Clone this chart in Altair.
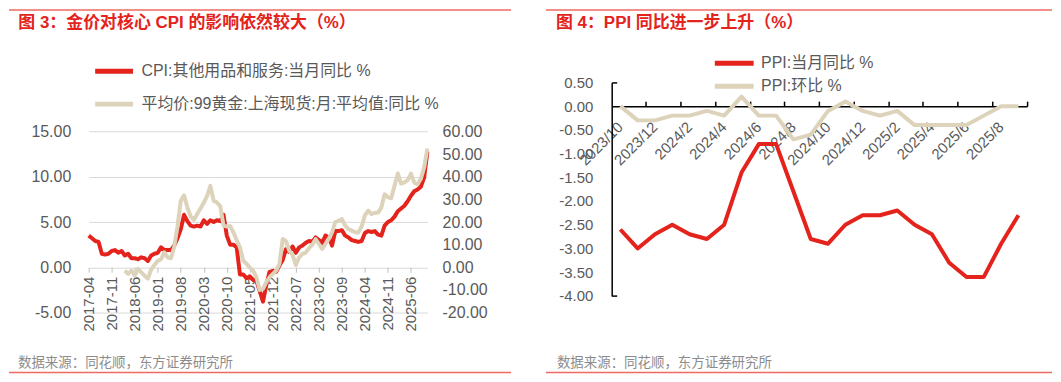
import altair as alt
import pandas as pd

FONT = "Liberation Sans, 'Noto Sans CJK SC', sans-serif"
RED = "#e3231c"
TAN = "#ddd3bb"
RULE = "#ee6a62"
GRAY = "#595959"
SRC = "#8c8c8c"
MINUS_EXPR = "replace(format(datum.value, '.2f'), '\u2212', '-')"

# ---------------- left chart data ----------------
months = []
for yy in range(2017, 2026):
    for mm in range(1, 13):
        if (2017, 4) <= (yy, mm) <= (2025, 11):
            months.append(f"{yy}-{mm:02d}")

cpi = [3.5, 3.2, 2.9, 2.8, 1.5, 1.4, 1.5, 1.8, 1.9, 1.6,
       1.8, 1.3, 1.5, 1.0, 1.0, 0.9, 1.1, 1.0, 0.7, 1.3,
       1.5, 1.6, 2.2, 1.9, 1.9, 1.9, 2.4, 3.2, 4.2, 5.8,
       5.1, 4.6, 4.5, 4.6, 4.5, 5.2, 4.8, 5.2, 5.0, 5.2,
       5.1, 5.8, 3.5, 2.5, 2.5, 2.2, -0.8, -0.8, -1.2, -1.0,
       -1.4, -1.5, -2.6, -3.8, -2.0, -0.5, -0.4, -0.5, 0.2, 0.8,
       2.0, 1.7, 2.3, 1.6, 2.2, 2.4, 2.7, 2.9, 2.8, 3.3,
       3.0, 2.7, 3.5, 3.3, 2.4, 4.0, 4.0, 4.1, 3.5, 3.3,
       3.0, 2.9, 2.8, 2.9, 3.8, 4.0, 3.9, 4.0, 3.6, 3.5,
       4.6, 5.0, 5.2, 5.6, 6.2, 6.5, 6.8, 7.3, 7.9, 8.4,
       8.6, 8.9, 9.9, 12.8]

gold = [None] * 11 + [
    -1.5, -2.9, -1.5, -3.7, -0.7, -2.2, -3.7, -5.0, -1.0, 1.0,
    2.9, 3.5, 6.6, 4.4, 4.0, 9.0, 18.0, 29.4, 31.8, 26.4,
    22.5, 21.0, 23.5, 26.0, 28.5, 31.5, 36.0, 29.4, 28.6, 27.0,
    18.4, 18.0, 18.2, 15.5, 12.0, 8.8, 3.0, 1.5, 0.0, -1.5,
    -4.4, -10.0, -9.5, -6.6, -4.4, -2.9, -1.5, 1.5, 12.5, 11.5,
    7.3, 5.5, 1.0, 4.4, 5.9, 6.5, 8.5, 10.0, 12.5, 10.3,
    8.1, 10.3, 12.5, 15.4, 20.0, 20.5, 21.3, 18.4, 16.9, 16.2,
    15.5, 15.4, 18.0, 23.0, 25.0, 23.5, 24.0, 24.2, 26.4, 32.3,
    31.0, 30.5, 36.0, 41.5, 37.0, 37.5, 38.5, 41.4, 37.4, 36.7,
    39.0, 44.0, 52.5]

NAME_CPI = "CPI:其他用品和服务:当月同比 %"
NAME_GOLD = "平均价:99黄金:上海现货:月:平均值:同比 %"
left_ticks_y = [-5, 0, 5, 10, 15]
right_ticks_y = [-20, -10, 0, 10, 20, 30, 40, 50, 60]

# ---------------- right chart data ----------------
months2 = ["2023/10", "2023/11", "2023/12",
           "2024/1", "2024/2", "2024/3", "2024/4", "2024/5", "2024/6",
           "2024/7", "2024/8", "2024/9", "2024/10", "2024/11", "2024/12",
           "2025/1", "2025/2", "2025/3", "2025/4", "2025/5", "2025/6",
           "2025/7", "2025/8", "2025/9"]
ppi_yoy = [-2.6, -3.0, -2.7, -2.5, -2.7, -2.8, -2.5, -1.4, -0.8, -0.8,
           -1.8, -2.8, -2.9, -2.5, -2.3, -2.3, -2.2, -2.5, -2.7, -3.3,
           -3.6, -3.6, -2.9, -2.3]
ppi_mom = [0.0, -0.3, -0.3, -0.2, -0.2, -0.1, -0.2, 0.2, -0.2, -0.2,
           -0.7, -0.6, -0.1, 0.1, -0.1, -0.2, -0.1, -0.4, -0.4, -0.4,
           -0.4, -0.2, 0.0, 0.0]
NAME_YOY = "PPI:当月同比 %"
NAME_MOM = "PPI:环比 %"
ppi_ticks_y = [-4.0, -3.5, -3.0, -2.5, -2.0, -1.5, -1.0, -0.5, 0.0, 0.5]
ppi_end_ticks = [-4.0, 0.5]

TITLE_L = "图 3：金价对核心 CPI 的影响依然较大（%）"
TITLE_R = "图 4：PPI 同比进一步上升（%）"
SOURCE = "数据来源：同花顺，东方证券研究所"


def deco_text(text, x, y, size, color, bold=False):
    return alt.Chart(pd.DataFrame({"t": [text]})).mark_text(
        align="left", baseline="middle", font=FONT, fontSize=size, color=color,
        fontWeight="bold" if bold else "normal"
    ).encode(x=alt.value(x), y=alt.value(y), text="t:N")


def deco_rule(x1, x2, y):
    return alt.Chart(pd.DataFrame({"r": [0]})).mark_rule(
        color=RULE, strokeWidth=1.5
    ).encode(x=alt.value(x1), x2=alt.value(x2), y=alt.value(y))


# ================= LEFT PANEL =================
LX0, LY0 = 88.0, 80.7
LW, LH = 340, 231
px_per = (311.7 - 130.0) / 20.0
ltop = 15 + (130.0 - LY0) / px_per
gtop = -20 + 4 * (ltop + 5)
l_xoff = -(LH * 5.0 / (ltop + 5))

df_cpi = pd.DataFrame({"month": months, "v": cpi, "s": NAME_CPI})
df_gold = pd.DataFrame({"month": months, "v": gold, "s": NAME_GOLD}).dropna()

x_left = alt.X(
    "month:O", sort=months, scale=alt.Scale(type="point", padding=0),
    axis=alt.Axis(values=months[::7], orient="bottom", offset=l_xoff, labelAngle=270,
                  labelAlign="right", labelBaseline="middle", labelPadding=4,
                  tickSize=5, tickColor="#bfbfbf", domain=False, grid=False, title=None,
                  labelFontSize=15, labelColor=GRAY, labelFont=FONT, labelOverlap=False))

legend_left = alt.Legend(
    orient="none", legendX=13, legendY=-23.7, title=None, direction="vertical",
    symbolType="M-1.9,0H1.9", symbolSize=400, symbolStrokeWidth=5,
    labelFontSize=16, labelColor=GRAY, labelFont=FONT, labelOffset=15,
    labelLimit=500, rowPadding=10, padding=0)
color_left = alt.Color("s:N", scale=alt.Scale(domain=[NAME_CPI, NAME_GOLD], range=[RED, TAN]),
                       legend=legend_left)

cpi_line = alt.Chart(df_cpi).mark_line(strokeWidth=4, strokeJoin="round").encode(
    x=x_left,
    y=alt.Y("v:Q", scale=alt.Scale(domain=[-5, ltop], nice=False, zero=False),
            axis=alt.Axis(values=left_ticks_y, labelExpr=MINUS_EXPR, grid=True,
                          gridColor="#d9d9d9", gridWidth=1, domain=False, ticks=False,
                          tickSize=0, labelPadding=18, labelFontSize=16, labelColor=GRAY,
                          labelFont=FONT, title=None)),
    color=color_left)

gold_line = alt.Chart(df_gold).mark_line(strokeWidth=4, strokeJoin="round").encode(
    x=x_left,
    y=alt.Y("v:Q", scale=alt.Scale(domain=[-20, gtop], nice=False, zero=False),
            axis=alt.Axis(orient="right", values=right_ticks_y, labelExpr=MINUS_EXPR,
                          grid=False, domain=False, ticks=False, tickSize=0,
                          labelPadding=14.7, labelFontSize=16, labelColor=GRAY,
                          labelFont=FONT, title=None)),
    color=color_left)

left = alt.layer(
    cpi_line, gold_line,
    deco_rule(8 - LX0, 512 - LX0, 8 - LY0),
    deco_text(TITLE_L, 17.3 - LX0, 21 - LY0, 17, RED, bold=True),
    deco_text(SOURCE, 17 - LX0, 362 - LY0, 13.5, SRC),
    deco_rule(8 - LX0, 512 - LX0, 372 - LY0),
).resolve_scale(y="independent").properties(width=LW, height=LH)

# ================= RIGHT PANEL =================
RX0, RY0 = 613.0, 80.7
RW, RH = 417, 214.3
zero_from_top = RH * 0.5 / 4.5

df_yoy = pd.DataFrame({"month": months2, "v": ppi_yoy, "s": NAME_YOY})
df_mom = pd.DataFrame({"month": months2, "v": ppi_mom, "s": NAME_MOM})

band = alt.Scale(type="band", paddingInner=0, paddingOuter=0)
y_scale_r = alt.Scale(domain=[-4, 0.5], nice=False, zero=False)

legend_right = alt.Legend(
    orient="none", legendX=110.5, legendY=-31.7, title=None, direction="vertical",
    symbolType="M-1.95,0H1.95", symbolSize=400, symbolStrokeWidth=5,
    labelFontSize=16, labelColor=GRAY, labelFont=FONT, labelOffset=14.5,
    labelLimit=500, rowPadding=0, padding=0)
color_right = alt.Color("s:N", scale=alt.Scale(domain=[NAME_YOY, NAME_MOM], range=[RED, TAN]),
                        legend=legend_right)

yoy_line = alt.Chart(df_yoy).mark_line(strokeWidth=4, strokeJoin="round").encode(
    x=alt.X("month:O", sort=months2, scale=band,
            axis=alt.Axis(values=months2[::2], orient="bottom", offset=-(RH - zero_from_top),
                          labelAngle=-45, labelAlign="right", labelBaseline="middle",
                          labelPadding=18, ticks=False, tickSize=0, domain=False, grid=False,
                          title=None, labelFontSize=15, labelColor=GRAY, labelFont=FONT,
                          labelOverlap=False)),
    y=alt.Y("v:Q", scale=y_scale_r,
            axis=alt.Axis(values=ppi_ticks_y, labelExpr=MINUS_EXPR, grid=False,
                          domain=True, domainColor="#000000", domainWidth=1.5,
                          ticks=False, tickSize=0, labelPadding=19, labelFontSize=15,
                          labelColor=GRAY, labelFont=FONT, title=None)),
    color=color_right)

mom_line = alt.Chart(df_mom).mark_line(strokeWidth=4, strokeJoin="round").encode(
    x=alt.X("month:O", sort=months2, scale=band,
            axis=alt.Axis(values=months2[1::2], orient="top", offset=-zero_from_top,
                          bandPosition=1, ticks=True, tickSize=5, tickColor="#000000",
                          tickWidth=1.5, domain=True, domainColor="#000000", domainWidth=1.5,
                          labels=False, grid=False, title=None)),
    y=alt.Y("v:Q", scale=y_scale_r,
            axis=alt.Axis(values=ppi_end_ticks, orient="right", offset=-RW,
                          ticks=True, tickSize=5, tickColor="#000000", tickWidth=1.5,
                          labels=False, domain=False, grid=False, title=None)),
    color=color_right)

right = alt.layer(
    yoy_line, mom_line,
    deco_rule(547 - RX0, 1055 - RX0, 8 - RY0),
    deco_text(TITLE_R, 557 - RX0, 21 - RY0, 17, RED, bold=True),
    deco_text(SOURCE, 558 - RX0, 362 - RY0, 13.5, SRC),
    deco_rule(547 - RX0, 1055 - RX0, 372 - RY0),
).resolve_axis(x="independent", y="independent").properties(width=RW, height=RH)

chart = alt.hconcat(left, right, spacing=RX0 - (LX0 + LW), bounds="flush").resolve_scale(
    color="independent"
).properties(padding=0).configure_view(stroke=None)

chart.save("out.html", embed_options={"renderer": "svg", "actions": False})
